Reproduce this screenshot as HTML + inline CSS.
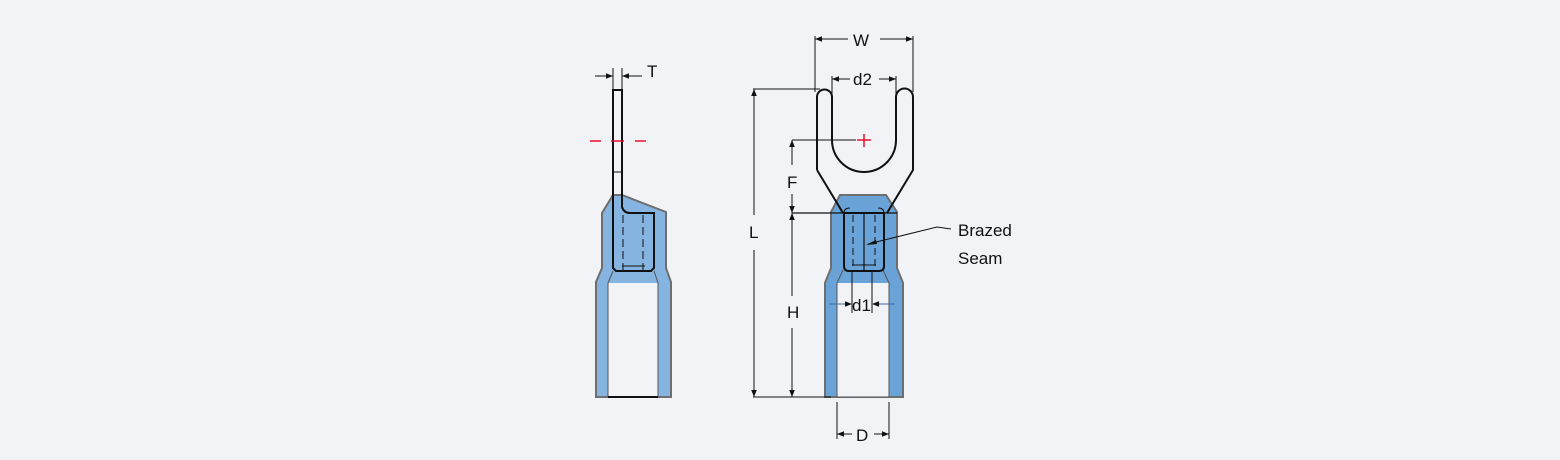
<!DOCTYPE html>
<html><head><meta charset="utf-8"><style>
html,body{margin:0;padding:0;background:#f2f3f7;}
svg{display:block;}
text{font-family:"Liberation Sans",Arial,sans-serif;font-size:17px;fill:#111;}
</style></head><body>
<svg width="1560" height="460" viewBox="0 0 1560 460" xmlns="http://www.w3.org/2000/svg">
<defs>
<marker id="a" viewBox="0 0 10 10" refX="10" refY="5" markerUnits="userSpaceOnUse" markerWidth="10" markerHeight="7" orient="auto-start-reverse"><path d="M0,1 L10,5 L0,9 z" fill="#111"/></marker>
</defs>
<rect width="1560" height="460" fill="#f2f3f7"/>

<!-- LEFT VIEW -->
<path d="M613,195 L622,195 L666,212 L666,268 L671,282 L671,397 L596,397 L596,282 L602,268 L602,213 Z" fill="#86b4e0" stroke="#6e6e6e" stroke-width="2"/>
<path d="M608,283 L658,283 L658,397 L608,397 Z" fill="#f2f3f7"/>
<path d="M608,397 L608,283 L613,271 M658,397 L658,283 L654,271" fill="none" stroke="#555" stroke-width="1"/>
<line x1="608" y1="397" x2="658" y2="397" stroke="#111" stroke-width="2"/>
<path d="M613,90 L622,90 L622,207 Q624,213 630,213 L654,213 L654,268 L651,271 L616,271 L613,268 Z" fill="none" stroke="#111" stroke-width="2"/>
<line x1="613" y1="172" x2="622" y2="172" stroke="#111" stroke-width="1"/>
<line x1="623" y1="215" x2="623" y2="270" stroke="#111" stroke-width="1" stroke-dasharray="8,4"/>
<line x1="643" y1="215" x2="643" y2="270" stroke="#111" stroke-width="1" stroke-dasharray="8,4"/>
<line x1="622" y1="266" x2="645" y2="266" stroke="#111" stroke-width="1"/>
<line x1="590" y1="141" x2="601" y2="141" stroke="#e8102a" stroke-width="1.5"/>
<line x1="611" y1="141" x2="624" y2="141" stroke="#e8102a" stroke-width="1.5"/>
<line x1="635" y1="141" x2="646" y2="141" stroke="#e8102a" stroke-width="1.5"/>
<line x1="613" y1="68" x2="613" y2="90" stroke="#111" stroke-width="1"/>
<line x1="622" y1="68" x2="622" y2="90" stroke="#111" stroke-width="1"/>
<line x1="595" y1="76" x2="613" y2="76" stroke="#111" stroke-width="1" marker-end="url(#a)"/>
<line x1="642" y1="76" x2="622" y2="76" stroke="#111" stroke-width="1" marker-end="url(#a)"/>
<text x="647" y="77">T</text>

<!-- RIGHT VIEW -->
<path d="M840,195 L886,195 L897,212 L897,268 L903,283 L903,397 L825,397 L825,283 L831,268 L831,212 Z" fill="#6aa3d8" stroke="#6e6e6e" stroke-width="2"/>
<path d="M837,283 L889,283 L889,397 L837,397 Z" fill="#f2f3f7"/>
<path d="M837,397 L837,283 L843,270 M889,397 L889,283 L883,270" fill="none" stroke="#555" stroke-width="1"/>
<line x1="837" y1="397" x2="889" y2="397" stroke="#555" stroke-width="1"/>
<path d="M817,170 L817,97 A7.5,7.5 0 0 1 832,97 L832,140 A32,32 0 0 0 896,140 L896,97 A8.5,8.5 0 0 1 913,97 L913,170 L887,213 M817,170 L843,213" fill="none" stroke="#111" stroke-width="2"/>
<path d="M844,213 L884,213 L884,266 Q884,271 879,271 L849,271 Q844,271 844,266 Z" fill="none" stroke="#111" stroke-width="2"/>
<path d="M844,213 Q844,208 850,208 M884,213 Q884,208 878,208" fill="none" stroke="#111" stroke-width="1"/>
<line x1="864" y1="213" x2="864" y2="271" stroke="#111" stroke-width="1.2"/>
<line x1="853" y1="215" x2="853" y2="268" stroke="#111" stroke-width="1" stroke-dasharray="7,4"/>
<line x1="875" y1="215" x2="875" y2="268" stroke="#111" stroke-width="1" stroke-dasharray="7,4"/>
<line x1="852" y1="265" x2="876" y2="265" stroke="#111" stroke-width="1"/>
<line x1="792" y1="213" x2="897" y2="213" stroke="#111" stroke-width="1.2"/>
<line x1="864" y1="134" x2="864" y2="147" stroke="#e8102a" stroke-width="1.5"/>
<line x1="857" y1="140" x2="871" y2="140" stroke="#e8102a" stroke-width="1.5"/>
<line x1="792" y1="140" x2="856" y2="140" stroke="#111" stroke-width="1"/>
<line x1="815" y1="36" x2="815" y2="92" stroke="#111" stroke-width="1"/>
<line x1="913" y1="36" x2="913" y2="92" stroke="#111" stroke-width="1"/>
<line x1="848" y1="39" x2="815" y2="39" stroke="#111" stroke-width="1" marker-end="url(#a)"/>
<line x1="880" y1="39" x2="913" y2="39" stroke="#111" stroke-width="1" marker-end="url(#a)"/>
<text x="853" y="46">W</text>
<line x1="832" y1="76" x2="832" y2="97" stroke="#111" stroke-width="1"/>
<line x1="896" y1="76" x2="896" y2="97" stroke="#111" stroke-width="1"/>
<line x1="850" y1="79" x2="832" y2="79" stroke="#111" stroke-width="1" marker-end="url(#a)"/>
<line x1="879" y1="79" x2="896" y2="79" stroke="#111" stroke-width="1" marker-end="url(#a)"/>
<text x="853" y="85">d2</text>
<line x1="753" y1="89" x2="820" y2="89" stroke="#111" stroke-width="1"/>
<line x1="753" y1="397" x2="831" y2="397" stroke="#111" stroke-width="1"/>
<line x1="754" y1="215" x2="754" y2="89" stroke="#111" stroke-width="1" marker-end="url(#a)"/>
<line x1="754" y1="250" x2="754" y2="397" stroke="#111" stroke-width="1" marker-end="url(#a)"/>
<text x="749" y="238">L</text>
<line x1="792" y1="165" x2="792" y2="140" stroke="#111" stroke-width="1" marker-end="url(#a)"/>
<line x1="792" y1="194" x2="792" y2="213" stroke="#111" stroke-width="1" marker-end="url(#a)"/>
<text x="787" y="188">F</text>
<line x1="792" y1="296" x2="792" y2="213" stroke="#111" stroke-width="1" marker-end="url(#a)"/>
<line x1="792" y1="328" x2="792" y2="397" stroke="#111" stroke-width="1" marker-end="url(#a)"/>
<text x="787" y="318">H</text>
<line x1="852" y1="271" x2="852" y2="313" stroke="#111" stroke-width="1"/>
<line x1="872" y1="271" x2="872" y2="313" stroke="#111" stroke-width="1"/>
<line x1="829" y1="304" x2="852" y2="304" stroke="#3a6a98" stroke-width="1" marker-end="url(#a)"/>
<line x1="895" y1="304" x2="872" y2="304" stroke="#3a6a98" stroke-width="1" marker-end="url(#a)"/>
<text x="852" y="311">d1</text>
<line x1="837" y1="402" x2="837" y2="439" stroke="#111" stroke-width="1"/>
<line x1="889" y1="402" x2="889" y2="439" stroke="#111" stroke-width="1"/>
<line x1="852" y1="434" x2="837" y2="434" stroke="#111" stroke-width="1" marker-end="url(#a)"/>
<line x1="874" y1="434" x2="889" y2="434" stroke="#111" stroke-width="1" marker-end="url(#a)"/>
<text x="856" y="441">D</text>
<polyline points="951,229 937,227 868,244" fill="none" stroke="#111" stroke-width="1"/>
<path d="M866,245 L876,240 L877,244 Z" fill="#111"/>
<text x="958" y="236">Brazed</text>
<text x="958" y="264">Seam</text>
</svg>
</body></html>
